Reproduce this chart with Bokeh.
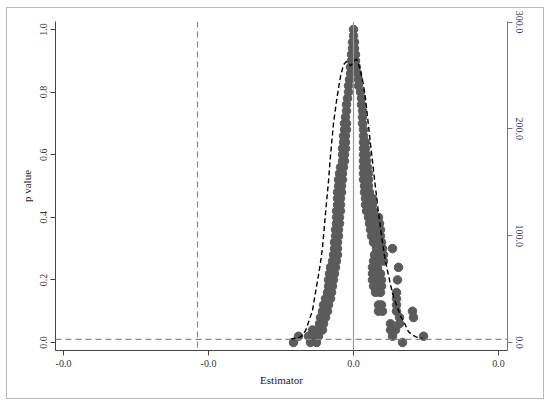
from bokeh.plotting import figure
from bokeh.models import Range1d, LinearAxis, FixedTicker, PrintfTickFormatter, Span
from bokeh.embed import file_html
from bokeh.resources import INLINE

# ---- data ----
p_grid = [1.00, 0.98, 0.96, 0.94, 0.92, 0.90, 0.88, 0.86, 0.84, 0.82,
          0.80, 0.78, 0.76, 0.74, 0.72, 0.70, 0.68, 0.66, 0.64, 0.62,
          0.60, 0.58, 0.56, 0.54, 0.52, 0.50, 0.48, 0.46, 0.44, 0.42,
          0.40, 0.38, 0.36, 0.34, 0.32, 0.30, 0.28, 0.26, 0.24, 0.22,
          0.20, 0.18, 0.16, 0.14, 0.12, 0.10, 0.08, 0.06, 0.04, 0.02, 0.00]

est_left_rows = [
    [0.0000], [0.0000], [-0.0001], [-0.0001], [-0.0002], [-0.0002], [-0.0003], [-0.0003], [-0.0004], [-0.0005],
    [-0.0005], [-0.0006], [-0.0007], [-0.0007], [-0.0008], [-0.0009, -0.0007], [-0.0009, -0.0007], [-0.0010, -0.0008],
    [-0.0010, -0.0008], [-0.0011, -0.0008],
    [-0.0011, -0.0009], [-0.0011, -0.0009], [-0.0013, -0.0010], [-0.0014, -0.0011], [-0.0015, -0.0011],
    [-0.0015, -0.0012], [-0.0016, -0.0012], [-0.0016, -0.0013], [-0.0016, -0.0013], [-0.0017, -0.0013],
    [-0.0017, -0.0014], [-0.0017, -0.0014], [-0.0018, -0.0015], [-0.0018, -0.0015], [-0.0019, -0.0016],
    [-0.0019, -0.0016], [-0.0020, -0.0016], [-0.0021, -0.0017], [-0.0023, -0.0018], [-0.0024, -0.0019],
    [-0.0025, -0.0020], [-0.0025, -0.0021], [-0.0026, -0.0022], [-0.0028, -0.0023], [-0.0030, -0.0025],
    [-0.0031, -0.0026], [-0.0033, -0.0028], [-0.0034, -0.0030], [-0.0041, -0.0036, -0.0031],
    [-0.0055, -0.0045, -0.0040, -0.0035], [-0.0060, -0.0043, -0.0037],
]

est_right_rows = [
    [], [], [0.0001], [0.0001], [0.0002], [0.0002], [0.0003], [0.0004], [0.0005], [0.0005],
    [0.0007], [0.0008], [0.0008], [0.0009], [0.0009], [0.0009], [0.0010], [0.0010], [0.0010, 0.0012], [0.0010, 0.0012],
    [0.0010, 0.0013], [0.0010, 0.0013], [0.0010, 0.0014], [0.0010, 0.0015], [0.0010, 0.0015],
    [0.0011, 0.0015], [0.0011, 0.0016], [0.0012, 0.0016, 0.0019], [0.0012, 0.0017, 0.0019], [0.0013, 0.0017, 0.0020],
    [0.0015, 0.0019, 0.0025], [0.0016, 0.0021, 0.0026], [0.0017, 0.0022, 0.0027], [0.0018, 0.0023, 0.0027],
    [0.0020, 0.0025, 0.0028], [0.0023, 0.0029, 0.0039], [0.0021, 0.0025, 0.0030], [0.0020, 0.0025, 0.0030],
    [0.0019, 0.0024, 0.0045], [0.0019, 0.0023, 0.0027],
    [0.0019, 0.0024, 0.0028, 0.0044], [0.0020, 0.0025, 0.0028], [0.0022, 0.0027, 0.0043], [0.0043],
    [0.0025, 0.0028, 0.0043], [0.0025, 0.0029, 0.0043, 0.0059], [0.0046, 0.0060], [0.0037, 0.0046],
    [0.0037, 0.0042], [0.0039, 0.0070], [0.0049],
]

dens_x = [-0.0063, -0.0053, -0.0048, -0.0045, -0.0041, -0.0038, -0.0035, -0.0033, -0.0031, -0.0028,
          -0.0025, -0.0023, -0.0020, -0.0017, -0.0015, -0.0013, -0.0010, -0.0007, -0.0005, -0.0003,
          -0.0001, 0.0002, 0.0004, 0.0007, 0.0010, 0.0012, 0.0015, 0.0017, 0.0020, 0.0022,
          0.0025, 0.0028, 0.0031, 0.0034, 0.0037, 0.0040, 0.0043, 0.0047, 0.0051, 0.0055,
          0.0059, 0.0063, 0.0069]
dens_y = [3, 5, 11, 19, 30, 47, 63, 75, 89, 121,
          151, 175, 205, 226, 238, 249, 260, 263, 262, 259,
          261, 265, 264, 254, 241, 228, 203, 186, 161, 145,
          121, 100, 81, 67, 54, 43, 35, 25, 18, 10,
          7, 5, 4]

x_ticks = [-0.029, -0.0145, 0.0, 0.0145]
p_ticks = [0.0, 0.2, 0.4, 0.6, 0.8, 1.0]
dens_ticks = [0, 100, 200, 300]
ref_estimate = -0.0156
p_threshold = 0.01

# ---- flatten points ----
pts_x, pts_p = [], []
for pv, row in zip(p_grid, est_left_rows):
    for e in row:
        pts_x.append(e)
        pts_p.append(pv)
for pv, row in zip(p_grid, est_right_rows):
    for e in row:
        pts_x.append(e)
        pts_p.append(pv)

FONT = "Liberation Serif"
PT_COL = "#5b5b5b"

p = figure(width=536, height=390, output_backend="svg", toolbar_location=None,
           x_range=Range1d(-0.0298, 0.0154), y_range=Range1d(-0.0256, 1.0256),
           min_border_left=48, min_border_right=36, min_border_top=13, min_border_bottom=48)
p.margin = (8, 0, 0, 7)
p.extra_y_ranges = {"dens": Range1d(-7.48, 300.5)}
p.outline_line_color = None
p.xgrid.visible = False
p.ygrid.visible = False
p.background_fill_color = "white"
p.border_fill_color = "white"
p.styles = {"outline": "1px solid #b8b8b8"}

p.scatter(pts_x, pts_p, size=8.5, fill_color=PT_COL, line_color=PT_COL, line_width=1)

p.add_layout(Span(location=0.0, dimension="height", line_color="#9a9a9a", line_width=1.2))
p.add_layout(Span(location=ref_estimate, dimension="height", line_color="#8a8a8a",
                  line_width=1.2, line_dash="6 4"))
p.add_layout(Span(location=p_threshold, dimension="width", line_color="#8a8a8a",
                  line_width=1.2, line_dash="6 4"))

p.line(dens_x, dens_y, y_range_name="dens", line_color="black", line_width=1.4, line_dash="5 3")

def style_axis(ax, ticks, fmt, label_color="#333333", line_color="#444444"):
    ax.ticker = FixedTicker(ticks=ticks)
    ax.formatter = PrintfTickFormatter(format=fmt)
    ax.major_tick_out = 5
    ax.major_tick_in = 0
    ax.minor_tick_line_color = None
    ax.axis_line_color = line_color
    ax.major_tick_line_color = line_color
    ax.major_label_text_font = FONT
    ax.major_label_text_font_size = "10px"
    ax.major_label_text_color = label_color
    ax.axis_label_text_font = FONT
    ax.axis_label_text_font_style = "normal"
    ax.axis_label_text_font_size = "11px"
    ax.axis_label_text_color = "#222222"

style_axis(p.xaxis[0], x_ticks, "%.1f")
p.xaxis[0].axis_label = "Estimator"
p.xaxis[0].major_label_standoff = 4
p.xaxis[0].axis_label_standoff = 4

style_axis(p.yaxis[0], p_ticks, "%.1f")
p.yaxis[0].axis_label = "p value"
p.yaxis[0].major_label_orientation = "vertical"
p.yaxis[0].major_label_standoff = 3
p.yaxis[0].axis_label_standoff = 5

ax2 = LinearAxis(y_range_name="dens")
style_axis(ax2, dens_ticks, "%.1f", label_color="#2b2b55", line_color="#777777")
ax2.major_label_orientation = "vertical"
ax2.major_label_standoff = 3
p.add_layout(ax2, "right")

open("out.html", "w").write(file_html(p, INLINE))
